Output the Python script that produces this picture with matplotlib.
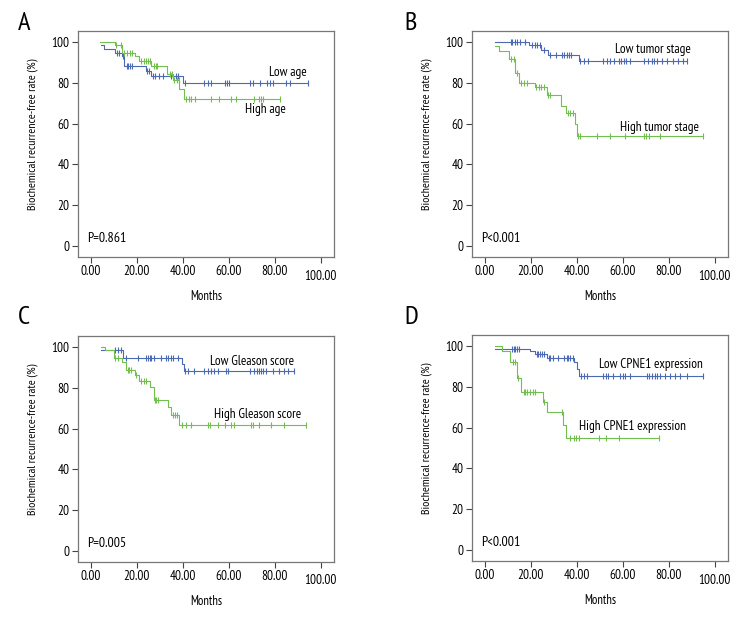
import matplotlib
matplotlib.use('Agg')
import matplotlib.pyplot as plt
import numpy as np

plt.rcParams['font.family'] = ['PT Sans Narrow', 'DejaVu Sans']

# ---------------------------------------------------------------------------
# Kaplan-Meier curves (months, % recurrence-free)
# each curve: start time, start value, step times, values after step, censors
# ---------------------------------------------------------------------------
# A: age
a_low_start = (4.2, 98.4)
a_low_t = [5.9, 10.6, 13.5, 14.6, 24.0, 26.2, 39.9]
a_low_s = [96.6, 94.6, 93.0, 88.4, 86.0, 83.2, 79.9]
a_low_cens = [11.3, 12.2, 13.9, 15.6, 16.3, 17.2, 17.9, 24.5, 25.1, 26.9, 27.9,
              29.4, 31.2, 35.0, 37.2, 37.9, 40.8, 49.1, 50.8, 52.3, 58.2, 59.2,
              60.2, 69.2, 70.6, 73.4, 76.4, 77.7, 79.2, 84.9, 86.4, 94.2]
a_high_start = (4.0, 100.0)
a_high_t = [10.6, 13.6, 19.0, 21.1, 26.3, 33.1, 35.6, 38.5, 40.4]
a_high_s = [98.4, 94.8, 93.0, 90.8, 88.1, 84.4, 81.4, 77.0, 72.0]
a_high_cens = [11.0, 12.9, 14.6, 15.8, 16.8, 17.9, 21.9, 22.9, 23.8, 24.8, 25.5,
               27.4, 28.2, 28.9, 34.2, 35.2, 36.3, 37.3, 38.2, 41.4, 42.6, 43.6,
               45.3, 52.3, 55.9, 60.9, 63.1, 71.1, 73.3, 74.0, 74.7, 82.2]

# B: tumor stage
b_low_start = (4.2, 100.0)
b_low_t = [19.1, 24.5, 27.4, 40.8]
b_low_s = [98.8, 96.2, 93.9, 90.6]
b_low_cens = [11.2, 12.0, 12.9, 14.1, 15.2, 17.4, 20.6, 21.6, 22.8, 23.8, 25.8,
              28.5, 31.1, 33.5, 34.5, 35.7, 36.7, 37.6, 41.5, 43.0, 44.7, 51.2,
              53.2, 54.6, 56.0, 58.2, 59.2, 60.4, 61.5, 63.0, 69.0, 70.9, 72.7,
              73.7, 74.8, 77.0, 79.2, 81.8, 83.8, 86.0, 87.9]
b_high_start = (4.2, 98.3)
b_high_t = [6.1, 10.4, 13.3, 14.8, 21.6, 26.8, 33.2, 35.3, 39.1, 40.1]
b_high_s = [95.8, 91.8, 84.7, 80.0, 77.9, 74.3, 68.9, 65.1, 60.0, 54.1]
b_high_cens = [11.2, 12.7, 14.1, 15.6, 17.0, 18.2, 22.3, 23.5, 24.5, 25.7, 27.4,
               28.5, 36.1, 37.2, 38.2, 40.5, 41.2, 48.8, 54.3, 61.1, 69.0, 70.1,
               71.2, 76.0, 94.7]

# C: Gleason score
c_low_start = (4.2, 98.4)
c_low_t = [13.9, 39.7, 40.4]
c_low_s = [94.7, 91.6, 88.2]
c_low_cens = [10.6, 11.7, 12.9, 15.3, 20.4, 24.0, 24.8, 25.5, 26.2, 27.4, 30.5,
              32.7, 33.7, 34.9, 35.9, 37.8, 41.0, 42.1, 45.0, 49.1, 50.8, 52.2,
              53.7, 55.1, 58.8, 59.5, 69.3, 70.8, 72.2, 73.3, 74.0, 75.0, 76.1,
              79.0, 81.9, 84.1, 85.5, 88.1]
c_high_start = (4.2, 100.0)
c_high_t = [6.2, 10.0, 13.5, 15.3, 19.2, 21.1, 25.9, 27.4, 33.4, 34.9, 38.5]
c_high_s = [98.4, 94.5, 92.5, 88.7, 86.2, 83.6, 80.3, 74.3, 70.8, 66.6, 62.0]
c_high_cens = [10.6, 11.9, 16.0, 16.7, 17.4, 19.8, 21.9, 22.9, 24.0, 27.7, 28.4,
               29.1, 35.7, 36.7, 37.6, 39.5, 41.4, 43.6, 50.8, 52.0, 55.1, 58.1,
               60.9, 62.4, 69.6, 70.6, 73.3, 78.3, 84.1, 93.5]

# D: CPNE1 expression
d_low_start = (4.5, 98.6)
d_low_t = [19.4, 21.6, 26.9, 38.9, 39.9, 40.8]
d_low_s = [97.6, 96.1, 94.2, 92.0, 89.0, 85.4]
d_low_cens = [11.7, 12.5, 13.2, 13.9, 14.9, 22.6, 23.3, 24.0, 24.8, 25.5, 27.7,
              28.4, 29.8, 32.0, 34.5, 35.6, 36.3, 37.1, 38.2, 41.7, 42.9, 44.3,
              51.5, 52.5, 53.7, 55.9, 58.8, 59.9, 61.0, 63.1, 70.3, 71.4, 72.5,
              74.0, 75.0, 76.2, 78.3, 80.5, 82.7, 84.8, 87.7, 94.7]
d_high_start = (4.5, 100.0)
d_high_t = [7.4, 11.0, 13.9, 15.6, 25.1, 27.2, 34.0, 35.2]
d_high_s = [97.8, 92.4, 84.6, 77.5, 72.7, 67.6, 61.2, 55.1]
d_high_cens = [12.3, 13.0, 14.3, 16.8, 17.5, 18.2, 19.7, 20.8, 21.9, 25.5, 33.5,
               36.8, 38.7, 39.7, 41.1, 49.7, 52.5, 58.3, 75.9]

panel_letters = ['A', 'B', 'C', 'D']
low_labels = ['Low age', 'Low tumor stage', 'Low Gleason score', 'Low CPNE1 expression']
high_labels = ['High age', 'High tumor stage', 'High Gleason score', 'High CPNE1 expression']
p_labels = ['P=0.861', 'P<0.001', 'P=0.005', 'P<0.001']
x_ticks = [0, 20, 40, 60, 80, 100]
y_ticks = [0, 20, 40, 60, 80, 100]

BLUE = '#4c6ab4'
GREEN = '#72bf50'


def km_curve(ax, start, t, s, cens, color):
    """Draw a step survival curve with censor ticks"""
    t0, s0 = start
    end = max(cens)
    xs = np.array([t0] + list(t) + [end])
    ys = np.array([s0] + list(s) + [s[-1]])
    ax.step(xs, ys, where='post', color=color, lw=0.8)
    idx = np.searchsorted(xs, cens, side='right') - 1
    ax.plot(cens, ys[idx], ls='none', marker='|', ms=4.5, mew=0.8, color=color)


def plot_panel(ax, low, high, low_lab, high_lab, p_lab, low_pos, high_pos):
    km_curve(ax, *low, color=BLUE)
    km_curve(ax, *high, color=GREEN)
    ax.text(low_pos[0], low_pos[1], low_lab, ha=low_pos[2], va='center', fontsize=9.5)
    ax.text(high_pos[0], high_pos[1], high_lab, ha=high_pos[2], va='center', fontsize=9.5)
    ax.text(-1.5, 3.5, p_lab, ha='left', va='center', fontsize=10)

    ax.set_xlim(-5.6, 105.7)
    ax.set_ylim(-5.5, 105.5)
    ax.set_xticks(x_ticks)
    ax.set_xticklabels(['%.2f' % v for v in x_ticks])
    ax.set_yticks(y_ticks)
    ax.set_yticklabels([str(v) for v in y_ticks])
    ax.tick_params(direction='out', length=4, width=0.8, labelsize=9.5,
                   pad=2, color='#444444')
    for sp in ax.spines.values():
        sp.set_color('#777777')
        sp.set_linewidth(0.9)
    ax.set_xlabel('Months', fontsize=9)
    ax.xaxis.set_label_coords(0.5, -0.145)
    ax.set_ylabel('Biochemical recurrence-free rate (%)', fontsize=8.6)
    ax.yaxis.set_label_coords(-0.158, 0.545)
    # SPSS drops the last x tick label a bit
    ax.xaxis.get_major_ticks()[-1].set_pad(5)


W, H = 756, 636
fig = plt.figure(figsize=(W / 100, H / 100), dpi=100)

boxes = [(78, 31, 256, 226), (472, 31, 256, 226),
         (78, 336, 256, 226), (472, 335, 256, 226)]
letter_pos = [(24, 24), (411, 24), (24, 317), (411, 317)]

curves = [
    ((a_low_start, a_low_t, a_low_s, a_low_cens), (a_high_start, a_high_t, a_high_s, a_high_cens)),
    ((b_low_start, b_low_t, b_low_s, b_low_cens), (b_high_start, b_high_t, b_high_s, b_high_cens)),
    ((c_low_start, c_low_t, c_low_s, c_low_cens), (c_high_start, c_high_t, c_high_s, c_high_cens)),
    ((d_low_start, d_low_t, d_low_s, d_low_cens), (d_high_start, d_high_t, d_high_s, d_high_cens)),
]
low_text_pos = [(94.0, 85.0, 'right'), (89.6, 96.3, 'right'),
                (88.2, 92.8, 'right'), (94.7, 90.8, 'right')]
high_text_pos = [(67.0, 66.9, 'left'), (93.1, 58.3, 'right'),
                 (91.3, 67.0, 'right'), (41.1, 60.8, 'left')]

for ii in range(4):
    x0, y0, w, h = boxes[ii]
    ax = fig.add_axes([x0 / W, 1 - (y0 + h) / H, w / W, h / H])
    plot_panel(ax, curves[ii][0], curves[ii][1], low_labels[ii], high_labels[ii],
               p_labels[ii], low_text_pos[ii], high_text_pos[ii])
    lx, ly = letter_pos[ii]
    fig.text(lx / W, 1 - ly / H, panel_letters[ii], fontsize=19,
             ha='center', va='center')

fig.savefig('out.png', dpi=100)
